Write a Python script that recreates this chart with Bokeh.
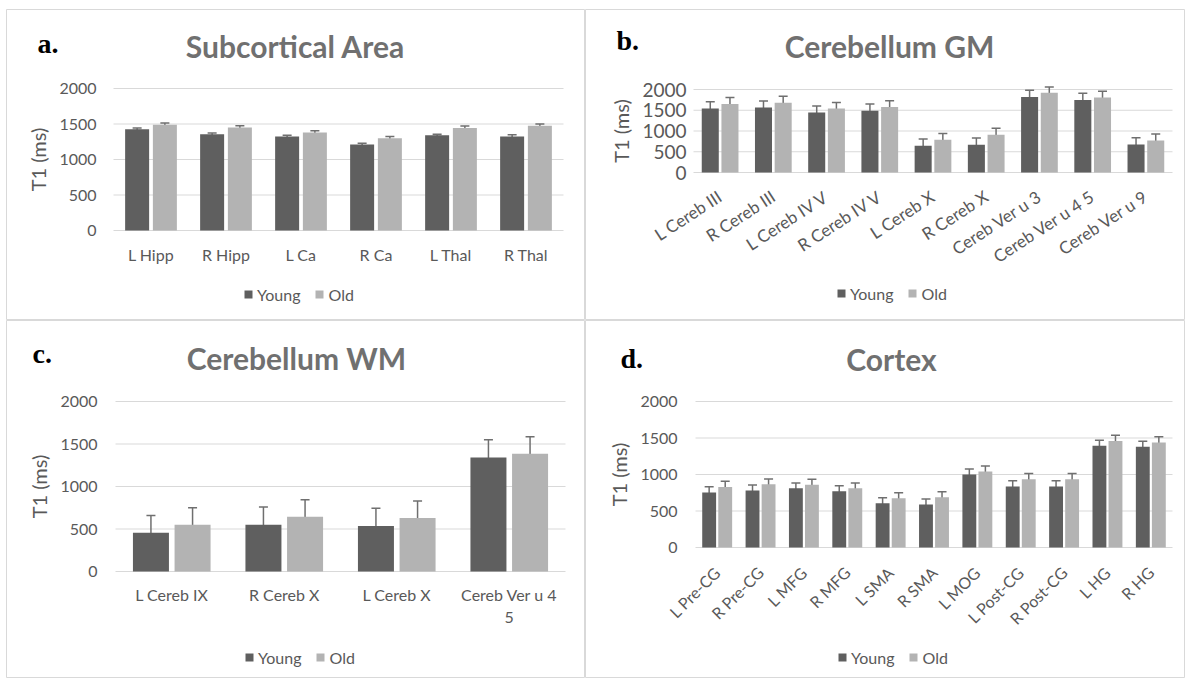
import math
from bokeh.plotting import figure
from bokeh.models import (ColumnDataSource, Range1d, FixedTicker, Whisker, TeeHead,
                          Label, Legend, LegendItem)
from bokeh.layouts import row, column
from bokeh.embed import file_html
from bokeh.resources import INLINE

# ---------------- data ----------------
series_names = ["Young", "Old"]
y_ticks = [0, 500, 1000, 1500, 2000]

a_cats = ["L Hipp", "R Hipp", "L Ca", "R Ca", "L Thal", "R Thal"]
a_young = [1425, 1355, 1325, 1210, 1340, 1325]
a_young_err = [18, 20, 18, 20, 15, 25]
a_old = [1490, 1450, 1380, 1300, 1445, 1475]
a_old_err = [25, 25, 25, 25, 28, 25]

b_cats = ["L Cereb III", "R Cereb III", "L Cereb IV V", "R Cereb IV V", "L Cereb X",
          "R Cereb X", "Cereb Ver u 3", "Cereb Ver u 4 5", "Cereb Ver u 9"]
b_young = [1540, 1565, 1445, 1490, 645, 670, 1820, 1750, 675]
b_young_err = [165, 160, 160, 160, 160, 160, 160, 160, 160]
b_old = [1650, 1680, 1540, 1580, 790, 910, 1920, 1810, 770]
b_old_err = [155, 155, 145, 150, 150, 155, 140, 150, 155]

c_cats = ["L Cereb IX", "R Cereb X", "L Cereb X", "Cereb Ver u 4 5"]
c_young = [455, 550, 535, 1340]
c_young_err = [205, 210, 210, 210]
c_old = [550, 645, 630, 1385]
c_old_err = [200, 200, 200, 200]

d_cats = ["L Pre-CG", "R Pre-CG", "L MFG", "R MFG", "L SMA", "R SMA", "L MOG",
          "L Post-CG", "R Post-CG", "L HG", "R HG"]
d_young = [755, 780, 810, 770, 605, 590, 1000, 835, 835, 1395, 1380]
d_young_err = [78, 75, 75, 75, 75, 75, 75, 78, 78, 75, 75]
d_old = [830, 865, 860, 810, 675, 690, 1040, 935, 935, 1460, 1440]
d_old_err = [78, 75, 75, 75, 75, 75, 75, 80, 80, 78, 78]

# ---------------- style ----------------
YOUNG_COLOR = "#5f5f5f"
OLD_COLOR = "#b3b3b3"
ERR_COLOR = "#6f6f6f"
GRID = "#d9d9d9"
TEXT = "#595959"
TITLE_COLOR = "#707070"
FONT = "Lato"
LETTER_FONT = "Liberation Serif"
OFF = 0.185
BAR_W = 0.32


def make_panel(letter, title, cats, young, young_err, old, old_err,
               W, H, X0, X1, Ytop, Ybot, title_px, letter_px, legend_loc,
               tick_size, y_standoff, label_angle, x_standoff, x_label_size="16px",
               overrides=None):
    n = len(cats)
    pc = (X1 - X0) / n           # pixels per category
    ppu = (Ybot - Ytop) / 2000.0  # pixels per ms
    x_start = -0.5 - X0 / pc
    x_end = n - 0.5 + (W - X1) / pc
    y_start = -(H - Ybot) / ppu
    y_end = 2000 + Ytop / ppu

    def dx(px):
        return x_start + px / pc

    def dy(py):
        return y_end - py / ppu

    p = figure(width=W, height=H, title=None,
               x_range=Range1d(x_start, x_end), y_range=Range1d(y_start, y_end),
               output_backend="svg", toolbar_location=None)
    p.min_border = 0
    p.min_border_left = 0
    p.min_border_right = 0
    p.min_border_top = 0
    p.min_border_bottom = 0
    p.background_fill_color = "white"
    p.border_fill_color = "white"
    p.outline_line_color = GRID
    p.outline_line_width = 1
    p.xgrid.visible = False
    p.ygrid.visible = False

    idx = list(range(n))
    src = ColumnDataSource(dict(
        xy=[i - OFF for i in idx], xo=[i + OFF for i in idx],
        young=young, old=old,
        yu=[v + e for v, e in zip(young, young_err)],
        yl=[v - e for v, e in zip(young, young_err)],
        ou=[v + e for v, e in zip(old, old_err)],
        ol=[v - e for v, e in zip(old, old_err)],
    ))

    # gridlines across the category area only
    p.segment(x0=[-0.5] * len(y_ticks), x1=[n - 0.5] * len(y_ticks),
              y0=y_ticks, y1=y_ticks, line_color=GRID, line_width=1.2,
              level="underlay")

    ry = p.vbar(x="xy", top="young", width=BAR_W, source=src,
                fill_color=YOUNG_COLOR, line_color=None)
    ro = p.vbar(x="xo", top="old", width=BAR_W, source=src,
                fill_color=OLD_COLOR, line_color=None)

    for base, up, lo in [("xy", "yu", "yl"), ("xo", "ou", "ol")]:
        p.add_layout(Whisker(source=src, base=base, upper=up, lower=lo,
                             dimension="height", line_color=ERR_COLOR, line_width=1.5,
                             upper_head=TeeHead(size=9, line_color=ERR_COLOR, line_width=1.5),
                             lower_head=TeeHead(size=9, line_color=ERR_COLOR, line_width=1.5)))

    # y axis fixed at the left edge of the category area
    ya = p.yaxis[0]
    ya.fixed_location = -0.5
    ya.ticker = FixedTicker(ticks=y_ticks)
    ya.bounds = (0, 2000)
    ya.axis_label = "T1 (ms)"
    ya.axis_label_text_font = FONT
    ya.axis_label_text_font_size = "20px"
    ya.axis_label_text_font_style = "normal"
    ya.axis_label_text_color = TEXT
    ya.axis_label_standoff = 6
    ya.major_label_text_font = FONT
    ya.major_label_text_font_size = tick_size
    ya.major_label_text_color = TEXT
    ya.major_label_standoff = y_standoff
    ya.axis_line_color = None
    ya.major_tick_line_color = None
    ya.minor_tick_line_color = None
    ya.major_tick_out = 0
    ya.major_tick_in = 0
    ya.minor_tick_out = 0

    # x axis fixed at 0 ms, one tick per category
    xa = p.xaxis[0]
    xa.fixed_location = 0
    xa.ticker = FixedTicker(ticks=idx)
    ov = {i: c for i, c in enumerate(cats)}
    if overrides:
        for i, c in enumerate(cats):
            if c in overrides:
                ov[i] = overrides[c]
    xa.major_label_overrides = ov
    xa.bounds = (-0.5, n - 0.5)
    xa.axis_line_color = None
    xa.major_tick_line_color = None
    xa.minor_tick_line_color = None
    xa.major_tick_out = 0
    xa.major_tick_in = 0
    xa.minor_tick_out = 0
    xa.major_label_text_font = FONT
    xa.major_label_text_font_size = x_label_size
    xa.major_label_text_color = TEXT
    xa.major_label_standoff = x_standoff
    if label_angle:
        xa.major_label_orientation = label_angle

    # title and panel letter
    p.add_layout(Label(x=dx(title_px[0]), y=dy(title_px[1]),
                       text=title, text_font=FONT, text_font_size="30px",
                       text_font_style="bold", text_color=TITLE_COLOR,
                       text_align="center", text_baseline="middle"))
    p.add_layout(Label(x=dx(letter_px[0]), y=dy(letter_px[1]),
                       text=letter, text_font=LETTER_FONT, text_font_size="28px",
                       text_font_style="bold", text_color="black",
                       text_align="left", text_baseline="middle"))

    legend = Legend(items=[LegendItem(label=series_names[0], renderers=[ry]),
                           LegendItem(label=series_names[1], renderers=[ro])],
                    location=legend_loc, orientation="horizontal",
                    glyph_width=10, glyph_height=10, label_standoff=4, spacing=14,
                    padding=0, margin=0, label_height=20,
                    label_text_font=FONT, label_text_font_size="16px",
                    label_text_color=TEXT, background_fill_alpha=0,
                    border_line_color=None)
    p.add_layout(legend)
    return p


pa = make_panel("a.", "Subcortical Area", a_cats, a_young, a_young_err, a_old, a_old_err,
                579, 311, 107, 557, 79, 221, (289, 36), (31, 34), (237, 16),
                "16px", 17, None, 14)
pb = make_panel("b.", "Cerebellum GM", b_cats, b_young, b_young_err, b_old, b_old_err,
                600, 311, 108, 587, 80, 163, (304, 36), (31, 31), (251, 17),
                "19px", 7, math.radians(33), 22, x_label_size="17px")
pc = make_panel("c.", "Cerebellum WM", c_cats, c_young, c_young_err, c_old, c_old_err,
                579, 358, 109, 559, 81, 251, (290, 37), (26, 33), (238, 11),
                "16px", 18, None, 13, overrides={"Cereb Ver u 4 5": "Cereb Ver u 4\n5"})
pd = make_panel("d.", "Cortex", d_cats, d_young, d_young_err, d_old, d_old_err,
                600, 358, 110, 587, 81, 227, (306, 38), (35, 38), (252, 11),
                "16px", 18, math.pi / 4, 22)

layout = column(row(pa, pb), row(pc, pd), margin=(9, 0, 0, 6))

open("out.html", "w").write(file_html(layout, INLINE))
